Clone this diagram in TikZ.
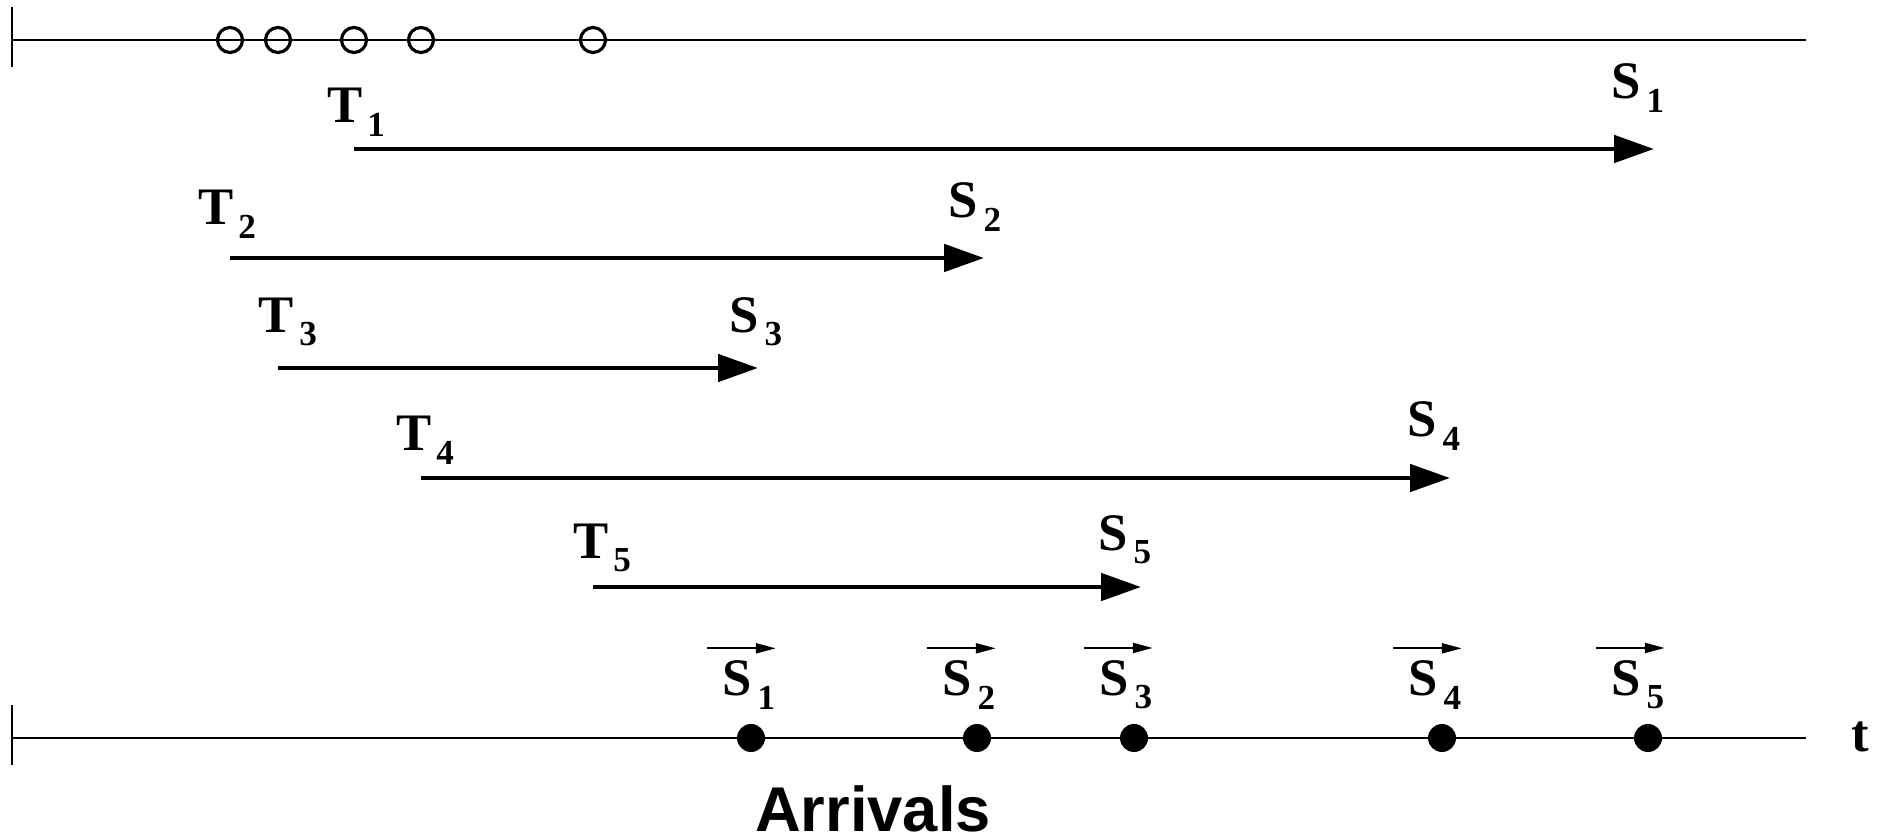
\documentclass[tikz,border=0pt]{standalone}
\usepackage{fontspec}
\setmainfont{Liberation Serif}
\setsansfont{Liberation Sans}
\usetikzlibrary{arrows.meta}
\newcommand{\withsub}[2]{\textbf{#1}\kern1.5pt\raisebox{-3.8pt}{\fontsize{10}{12}\selectfont\textbf{#2}}}
\tikzset{
  axis/.style={line width=0.6pt, black},
  obs/.style={circle, draw=black, line width=0.9pt, minimum size=2.5mm, inner sep=0pt},
  arr/.style={circle, fill=black, minimum size=2.8mm, inner sep=0pt},
  lbl/.style={anchor=south, inner sep=0pt, font=\fontsize{15}{18}\selectfont}
}
\tikzstyle{servarrow} = [line width=1.4pt, black, -{Triangle[length=4mm,width=2.7mm]}]
\tikzstyle{vecarrow} = [line width=0.6pt, black, -{Triangle[length=2mm,width=1mm]}]

\begin{document}
\begin{tikzpicture}
    \useasboundingbox (0,0) rectangle (18.82,8.40);
    \coordinate (top0) at (0.12,8.00);
    \coordinate (top1) at (18.06,8.00);
    \coordinate (bot0) at (0.12,1.02);
    \coordinate (bot1) at (18.06,1.02);
    \draw [axis] (top0) -- (top1);
    \draw [axis] ([yshift=3.3mm]top0) -- ([yshift=-2.7mm]top0);
    \draw [axis] (bot0) -- (bot1);
    \draw [axis] ([yshift=3.3mm]bot0) -- ([yshift=-2.7mm]bot0);
    \node [lbl, anchor=base] (t) at (18.60,0.88) {\textbf{t}};
    \node [obs] (t2) at (2.30,8.00) {};
    \node [obs] (t3) at (2.78,8.00) {};
    \node [obs] (t1) at (3.54,8.00) {};
    \node [obs] (t4) at (4.21,8.00) {};
    \node [obs] (t5) at (5.93,8.00) {};
    \coordinate (s1) at (16.54,6.91);
    \coordinate (s2) at (9.84,5.82);
    \coordinate (s3) at (7.58,4.72);
    \coordinate (s4) at (14.50,3.62);
    \coordinate (s5) at (11.41,2.53);
    \foreach \i in {1,...,5}
        \draw [servarrow] (t\i |- s\i) -- (s\i);
    \node [lbl] (T1) at (3.56,7.03) {\withsub{T}{1}};
    \node [lbl] (T2) at (2.27,6.01) {\withsub{T}{2}};
    \node [lbl] (T3) at (2.88,4.93) {\withsub{T}{3}};
    \node [lbl] (T4) at (4.25,3.75) {\withsub{T}{4}};
    \node [lbl] (T5) at (6.02,2.67) {\withsub{T}{5}};
    \node [lbl] (S1) at (16.38,7.27) {\withsub{S}{1}};
    \node [lbl] (S2) at (9.75,6.08) {\withsub{S}{2}};
    \node [lbl] (S3) at (7.56,4.93) {\withsub{S}{3}};
    \node [lbl] (S4) at (14.34,3.89) {\withsub{S}{4}};
    \node [lbl] (S5) at (11.25,2.75) {\withsub{S}{5}};
    \node [arr] (d1) at (7.51,1.02) {};
    \node [arr] (d2) at (9.77,1.02) {};
    \node [arr] (d3) at (11.34,1.02) {};
    \node [arr] (d4) at (14.42,1.02) {};
    \node [arr] (d5) at (16.48,1.02) {};
    \node [lbl] (v1) at (7.49,1.30) {\withsub{S}{1}};
    \node [lbl] (v2) at (9.69,1.30) {\withsub{S}{2}};
    \node [lbl] (v3) at (11.26,1.30) {\withsub{S}{3}};
    \node [lbl] (v4) at (14.35,1.30) {\withsub{S}{4}};
    \node [lbl] (v5) at (16.38,1.30) {\withsub{S}{5}};
    \foreach \i in {1,...,5}
        \draw [vecarrow] ([xshift=-1.5mm,yshift=1.2mm]v\i.north west) -- ([yshift=1.2mm]v\i.north east);
    \node [inner sep=0pt, anchor=base, font=\sffamily\bfseries\fontsize{18}{22}\selectfont] (arrivals) at (8.73,0.09) {Arrivals};
\end{tikzpicture}
\end{document}
